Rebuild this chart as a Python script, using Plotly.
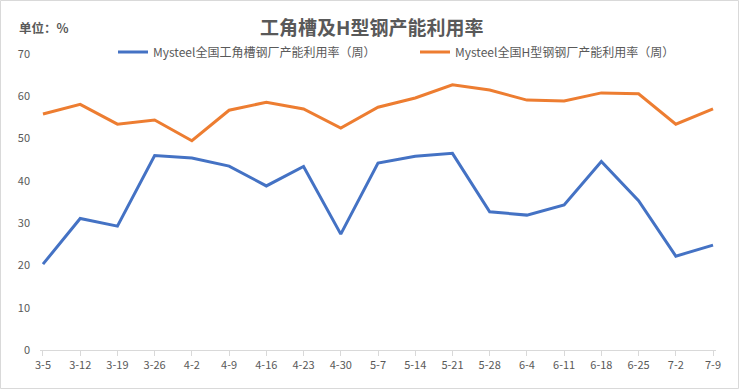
import plotly.graph_objects as go

categories = ["3-5", "3-12", "3-19", "3-26", "4-2", "4-9", "4-16", "4-23", "4-30", "5-7",
              "5-14", "5-21", "5-28", "6-4", "6-11", "6-18", "6-25", "7-2", "7-9"]
angle_channel = [20.3, 31.1, 29.3, 46.0, 45.4, 43.5, 38.8, 43.4, 27.4, 44.2,
                 45.8, 46.5, 32.7, 31.9, 34.3, 44.6, 35.3, 22.2, 24.8]
h_beam = [55.8, 58.1, 53.4, 54.4, 49.5, 56.7, 58.6, 57.0, 52.5, 57.4,
          59.6, 62.7, 61.5, 59.1, 58.9, 60.8, 60.6, 53.4, 57.0]
name_angle = "Mysteel全国工角槽钢厂产能利用率（周）"
name_h = "Mysteel全国H型钢钢厂产能利用率（周）"
yticks = [0, 10, 20, 30, 40, 50, 60, 70]

FONT = "Noto Sans CJK SC"
GREY = "#595959"

x_idx = list(range(len(categories)))

fig = go.Figure()
fig.add_trace(go.Scatter(x=x_idx, y=angle_channel, mode="lines", name=name_angle,
                         line=dict(color="#4472C4", width=3)))
fig.add_trace(go.Scatter(x=x_idx, y=h_beam, mode="lines", name=name_h,
                         line=dict(color="#ED7D31", width=3)))

L, R, T, B = 40, 24, 54, 40
W, H = 740, 390
pw = W - L - R
ph = H - T - B

fig.update_layout(
    width=W, height=H,
    margin=dict(l=L, r=R, t=T, b=B, autoexpand=False),
    paper_bgcolor="white", plot_bgcolor="white",
    font=dict(family=FONT, color=GREY, size=11),
    showlegend=True,
    legend=dict(orientation="h", x=(113 - L) / pw, xanchor="left",
                y=1 + 2 / ph, yanchor="middle",
                font=dict(size=12, color=GREY, family=FONT),
                bgcolor="rgba(0,0,0,0)", itemwidth=30, entrywidth=257),
    xaxis=dict(
        tickmode="array", tickvals=x_idx, ticktext=categories,
        range=[-0.08, 18.08], showgrid=False, zeroline=False,
        showline=True, linecolor="#D9D9D9", linewidth=1,
        ticks="outside", ticklen=5, tickcolor="#D9D9D9",
        tickfont=dict(size=11, color=GREY), fixedrange=True,
    ),
    yaxis=dict(
        tickmode="array", tickvals=yticks, range=[0, 70],
        showgrid=False, zeroline=False, showline=False,
        tickfont=dict(size=11, color=GREY), ticklabelstandoff=9,
        fixedrange=True,
    ),
    shapes=[dict(type="rect", xref="paper", yref="paper",
                 x0=-(L - 0.5) / pw, x1=1 + (R - 1.5) / pw,
                 y0=-(B - 1.5) / ph, y1=1 + (T - 0.5) / ph,
                 line=dict(color="#D9D9D9", width=1))],
    annotations=[
        dict(text="<b>工角槽及H型钢产能利用率</b>", xref="paper", yref="paper",
             x=(371 - L) / pw, y=1 + (T - 27) / ph, xanchor="center", yanchor="middle",
             showarrow=False, font=dict(size=19, color=GREY, family=FONT)),
        dict(text="<b>单位：%</b>", xref="paper", yref="paper",
             x=-(L - 17) / pw, y=1 + (T - 28) / ph, xanchor="left", yanchor="middle",
             showarrow=False, font=dict(size=12.5, color=GREY, family=FONT)),
    ],
)

fig.write_html("out.html", config={"displayModeBar": False},
               post_script="document.body.style.margin='0';")
